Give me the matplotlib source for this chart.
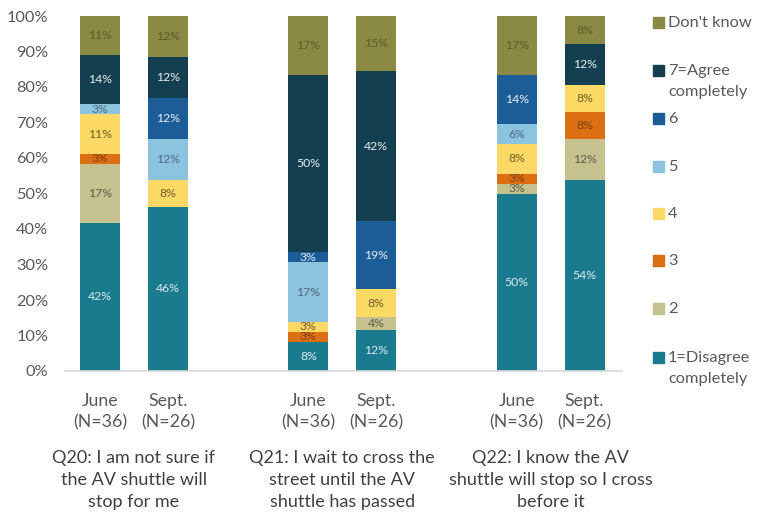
import matplotlib
matplotlib.use("Agg")
import matplotlib.pyplot as plt
from matplotlib.patches import Rectangle

plt.rcParams['font.family'] = ['Lato', 'DejaVu Sans']

bar_labels = ["June\n(N=36)", "Sept.\n(N=26)"] * 3
questions = ["Q20: I am not sure if\nthe AV shuttle will\nstop for me",
             "Q21: I wait to cross the\nstreet until the AV\nshuttle has passed",
             "Q22: I know the AV\nshuttle will stop so I cross\nbefore it"]
categories = ["1=Disagree\ncompletely", "2", "3", "4", "5", "6", "7=Agree\ncompletely", "Don't know"]

# percentages per bar (Q20 June, Q20 Sept, Q21 June, Q21 Sept, Q22 June, Q22 Sept)
v1 = [41.7, 46.2, 8.3, 11.5, 50.0, 53.8]
v2 = [16.7, 0.0, 0.0, 3.8, 2.8, 11.5]
v3 = [2.8, 0.0, 2.8, 0.0, 2.8, 7.7]
v4 = [11.1, 7.7, 2.8, 7.7, 8.3, 7.7]
v5 = [2.8, 11.5, 16.7, 0.0, 5.6, 0.0]
v6 = [0.0, 11.5, 2.8, 19.2, 13.9, 0.0]
v7 = [13.9, 11.5, 50.0, 42.3, 0.0, 11.5]
vdk = [11.1, 11.5, 16.7, 15.4, 16.7, 7.7]
series = [v1, v2, v3, v4, v5, v6, v7, vdk]

colors = ["#1a7b8e", "#c5c28f", "#dc6f12", "#fcd964", "#8cc3de", "#1c5d98", "#133f50", "#8a8a44"]
label_colors = ["#dbeaf0", "#5c5c48", "#7a3f0c", "#6e5e28", "#4f6b80", "#e6eef6", "#e6eef0", "#5c5c2c"]

fig = plt.figure(figsize=(7.62, 5.16), dpi=100)
ax = fig.add_axes([65/762, 1-371/516, (622-65)/762, (371-16)/516])

xpos = [0, 1, 3.065, 4.065, 6.13, 7.13]
width = 0.59
bottom = [0.0] * 6
for vals, c, lc in zip(series, colors, label_colors):
    bars = ax.bar(xpos, vals, width, bottom=bottom, color=c, linewidth=0)
    for x, b, v in zip(xpos, bottom, vals):
        if v > 0:
            ax.text(x, b + v / 2, f"{round(v):.0f}%", ha="center", va="center",
                    fontsize=8.8, color=lc)
    bottom = [b + v for b, v in zip(bottom, vals)]

ax.set_xlim(-0.515, 7.68)
ax.set_ylim(0, 100)
ax.set_yticks(range(0, 101, 10))
ax.set_yticklabels([f"{t}%" for t in range(0, 101, 10)], fontsize=11.8, color="#595959")
ax.set_xticks(xpos)
ax.set_xticklabels(bar_labels, fontsize=12.8, color="#595959", linespacing=1.35)
ax.tick_params(axis="both", length=0)
ax.tick_params(axis="x", pad=16)
ax.tick_params(axis="y", pad=12)
for s in ["top", "right", "left"]:
    ax.spines[s].set_visible(False)
ax.spines["bottom"].set_color("#d9d9d9")
ax.spines["bottom"].set_linewidth(1.2)

gcenters = [0.5, 3.565, 6.63]
for gx, q in zip(gcenters, questions):
    ax.text(gx, -22.3, q, ha="center", va="top", fontsize=13, color="#404040",
            linespacing=1.45, transform=ax.transData, clip_on=False)

# legend (manual)
leg_y = [22, 70, 118, 166, 213, 260, 308, 357]
order = list(range(7, -1, -1))
for yy, idx in zip(leg_y, order):
    fig.patches.append(Rectangle((653/762, 1-(yy+6)/516), 11/762, 11/516,
                                 transform=fig.transFigure, color=colors[idx]))
    fig.text(668/762, 1-(yy-6)/516, categories[idx], ha="left", va="top",
             fontsize=11.8, color="#595959", linespacing=1.65)

fig.savefig("out.png", dpi=100)
